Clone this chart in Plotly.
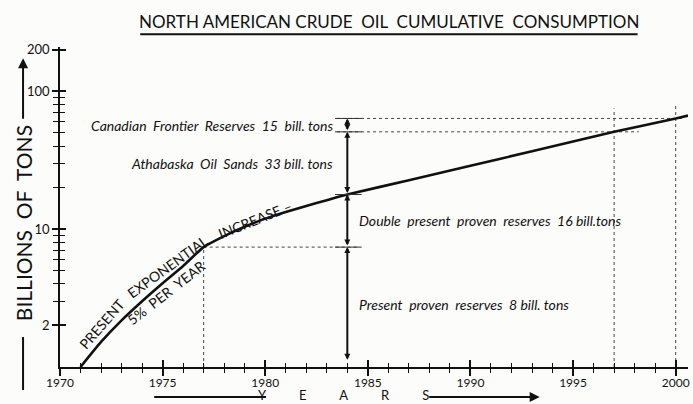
import math
import plotly.graph_objects as go

# ---------------- data ----------------
years = [1971, 1972, 1973, 1974, 1975, 1976, 1977, 1978, 1979, 1980, 1981, 1982,
         1983, 1984, 1987, 1990, 1993, 1997, 2000, 2000.6]
consumption = [1.0, 1.52, 2.18, 3.0, 4.05, 5.4, 7.4, 8.9, 10.4, 11.9, 13.3, 14.7,
               16.2, 17.8, 22.6, 28.8, 36.6, 50.7, 63.4, 66.5]

x_tick_years = [1970, 1975, 1980, 1985, 1990, 1995, 2000]
y_tick_vals = [2, 10, 100, 200]
y_tick_text = ["2", "10", "100", "200"]
y_minor_vals = [3, 4, 5, 6, 7, 8, 9, 20, 30, 40, 50, 60, 70, 80, 90]

marker_year = 1984
reserve_lower = [1.1, 7.4, 17.8, 50.7]
reserve_upper = [7.4, 17.8, 50.7, 63.4]
reserve_names = ["Present\u00a0 proven\u00a0 reserves\u00a0 8 bill.\u00a0tons",
                 "Double\u00a0 present\u00a0 proven\u00a0 reserves\u00a0 16\u00a0bill.tons",
                 "Athabaska\u00a0 Oil\u00a0 Sands\u00a0 33 bill.\u00a0tons",
                 "Canadian\u00a0 Frontier\u00a0 Reserves\u00a0 15\u00a0 bill.\u00a0tons"]
reserve_side = ["right", "right", "left", "left"]

exhaust_years = [1977, 1997, 2000]
guide_tops = [7.4, 75, 82]

# ---------------- layout geometry ----------------
W, H = 693, 404
L, R, T, B = 59.7, 688.5, 46.8, 367.0
X_RANGE = [1970, 2000.6]
Y_RANGE = [0, 2.32]


def px(xp):
    return (xp - L) / (R - L)


def py(yp):
    return (B - yp) / (B - T)


INK = "#111111"
FONT = "Lato"

fig = go.Figure()

# dashed guide lines
gx, gy = [], []
lvl = dict(zip(years, consumption))
h_x0 = [1977, 1983.5, 1983.5]
h_x1 = [1984.5, 1998.2, 2000.3]
for yr, top, x0, x1 in zip(exhaust_years, guide_tops, h_x0, h_x1):
    gx += [yr, yr, None]
    gy += [1.0, top, None]
    gx += [x0, x1, None]
    gy += [lvl[yr], lvl[yr], None]
fig.add_trace(go.Scatter(x=gx, y=gy, mode="lines",
                         line=dict(color="#444444", width=1, dash="3px,3px"),
                         hoverinfo="skip", showlegend=False))

# main curve
fig.add_trace(go.Scatter(x=years, y=consumption, mode="lines",
                         line=dict(color=INK, width=2.6, shape="spline", smoothing=0.6),
                         showlegend=False))

# short solid ticks at reserve levels on the 1984 marker line
tx, ty = [], []
for v in reserve_upper:
    tx += [marker_year - 0.6, marker_year + 0.7, None]
    ty += [v, v, None]
fig.add_trace(go.Scatter(x=tx, y=ty, mode="lines", xaxis="x2", yaxis="y2",
                         line=dict(color="#333333", width=1),
                         hoverinfo="skip", showlegend=False))

annotations = []
# dimension arrows
for lo, hi in zip(reserve_lower, reserve_upper):
    annotations.append(dict(x=marker_year, y=math.log10(hi), xref="x", yref="y",
                            ax=marker_year, ay=math.log10(lo), axref="x", ayref="y",
                            text="", showarrow=True, arrowhead=2, arrowside="end+start",
                            arrowsize=0.6, arrowwidth=2, arrowcolor=INK,
                            standoff=0, startstandoff=0))
# reserve labels
for lo, hi, name, side in zip(reserve_lower, reserve_upper, reserve_names, reserve_side):
    ymid = (math.log10(lo) + math.log10(hi)) / 2
    if side == "right":
        xx, anc = marker_year + 0.45, "left"
    else:
        xx, anc = marker_year - 0.6, "right"
    annotations.append(dict(x=xx, y=ymid, xref="x", yref="y", text="<i>" + name + "</i>",
                            showarrow=False, xanchor=anc, yanchor="middle",
                            font=dict(family=FONT, size=14, color=INK)))

# curved label along the curve (word by word)
words = [("PRESENT", 1972.04, 0.319, -49),
         ("EXPONENTIAL", 1975.25, 0.727, -36),
         ("INCREASE –", 1979.5, 1.072, -22),
         ("5%\u00a0 PER\u00a0 YEAR", 1975.17, 0.543, -38)]
for txt, xx, yy, ang in words:
    annotations.append(dict(x=xx, y=yy, xref="x", yref="y", text=txt, showarrow=False,
                            textangle=ang, xanchor="center", yanchor="middle",
                            font=dict(family=FONT, size=14, color=INK)))

# title
annotations.append(dict(x=px(389), y=py(21), xref="paper", yref="paper",
                        text="NORTH AMERICAN CRUDE\u00a0\u00a0OIL\u00a0\u00a0CUMULATIVE\u00a0\u00a0CONSUMPTION",
                        showarrow=False, xanchor="center", yanchor="middle",
                        font=dict(family=FONT, size=17, color=INK)))
# y axis title
annotations.append(dict(x=px(22.7), y=py(223), xref="paper", yref="paper",
                        text="BILLIONS\u00a0 OF\u00a0 TONS", textangle=-90, showarrow=False,
                        xanchor="center", yanchor="middle",
                        font=dict(family=FONT, size=21, color=INK)))
annotations.append(dict(x=px(22.7), y=py(58), xref="paper", yref="paper",
                        ax=0, ay=62, text="", showarrow=True, arrowhead=2, arrowsize=1,
                        arrowwidth=2, arrowcolor=INK))
# x axis title
gap = "\u00a0" * 9 + " "
annotations.append(dict(x=px(344), y=py(395.5), xref="paper", yref="paper",
                        text=gap.join("YEARS"), showarrow=False,
                        xanchor="center", yanchor="middle",
                        font=dict(family=FONT, size=13, color=INK)))
annotations.append(dict(x=px(540), y=py(397), xref="paper", yref="paper",
                        ax=-112, ay=0, text="", showarrow=True, arrowhead=2, arrowsize=1,
                        arrowwidth=2, arrowcolor=INK))

shapes = [
    dict(type="line", xref="paper", yref="paper", x0=px(140), x1=px(638), y0=py(34), y1=py(34),
         line=dict(color=INK, width=2)),
    dict(type="line", xref="paper", yref="paper", x0=px(22.7), x1=px(22.7), y0=py(337), y1=py(390),
         line=dict(color=INK, width=2)),
    dict(type="line", xref="paper", yref="paper", x0=px(154), x1=px(266), y0=py(397), y1=py(397),
         line=dict(color=INK, width=2)),
]

xcommon = dict(range=X_RANGE, tickmode="linear", tick0=1970, dtick=5, ticklen=7, tickwidth=2,
               tickcolor=INK, showgrid=False, zeroline=False,
               minor=dict(tickmode="linear", tick0=1970, dtick=1, ticklen=4, tickwidth=1.2,
                          tickcolor=INK, showgrid=False))
ycommon = dict(type="log", range=Y_RANGE, tickmode="array", tickvals=y_tick_vals,
               ticktext=y_tick_text, ticklen=6, tickwidth=1.5, tickcolor=INK,
               showgrid=False, zeroline=False,
               minor=dict(tickmode="array", tickvals=y_minor_vals, ticklen=5, tickwidth=1.2,
                          tickcolor=INK, showgrid=False))

fig.update_layout(
    width=W, height=H,
    margin=dict(l=L, r=W - R, t=T, b=H - B, pad=0, autoexpand=False),
    paper_bgcolor="#fcfcfb", plot_bgcolor="#fcfcfb",
    font=dict(family=FONT, color=INK, size=12),
    showlegend=False,
    xaxis=dict(**xcommon, ticks="outside", showline=True, linecolor=INK, linewidth=1.5,
               ticklabelstandoff=-3,
               tickfont=dict(family=FONT, size=12, color=INK)),
    xaxis2=dict(**xcommon, ticks="inside", overlaying="x", anchor="y2", showticklabels=False,
                showline=False),
    yaxis=dict(**ycommon, ticks="outside", showline=True, linecolor=INK, linewidth=1.5,
               tickfont=dict(family=FONT, size=13, color=INK)),
    yaxis2=dict(**ycommon, ticks="inside", overlaying="y", anchor="x2", showticklabels=False,
                showline=False),
    annotations=annotations,
    shapes=shapes,
)
fig.update_layout(xaxis_minor_ticks="outside", xaxis2_minor_ticks="inside",
                  yaxis_minor_ticks="outside", yaxis2_minor_ticks="inside")

fig.write_html("out.html", config={"displayModeBar": False},
               post_script="document.body.style.margin='0px';document.body.style.padding='0px';"
                           "document.body.style.overflow='hidden';")
